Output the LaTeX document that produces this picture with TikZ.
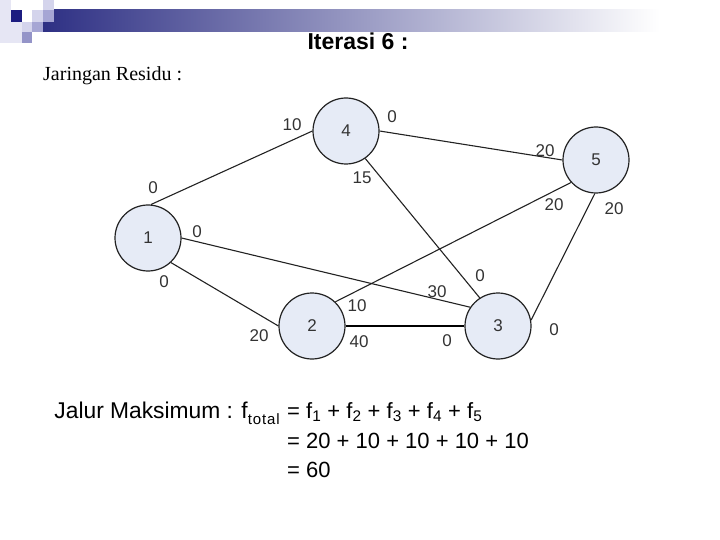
\documentclass[tikz,border=0pt]{standalone}
\usepackage{fontspec}
\setmainfont{Liberation Sans}
\newfontfamily\serifjr{Liberation Serif}
\definecolor{nodefill}{HTML}{E6EBF6}
\definecolor{barnavy}{HTML}{2E3084}
\definecolor{barmid}{HTML}{A4A4BE}
\definecolor{sqnavy}{HTML}{1C1C80}
\definecolor{sqlight}{HTML}{D4D4EC}
\definecolor{sqpale}{HTML}{E6E6F4}
\definecolor{sqmid}{HTML}{A6A6D4}
\definecolor{sqdark}{HTML}{9494C8}
\definecolor{edgecol}{HTML}{222222}
\definecolor{lblcol}{HTML}{333333}
\newcommand{\mysub}[1]{\raisebox{-6.5pt}{\fontsize{15}{15}\selectfont #1}}
\begin{document}
\begin{tikzpicture}[x=1pt,y=-1pt,
  vertex/.style={circle, draw=edgecol, line width=1.2pt, fill=nodefill,
    minimum size=66pt, inner sep=0pt, font=\fontsize{17}{20}\selectfont, text=lblcol},
  lbl/.style={font=\fontsize{17}{20}\selectfont, text=lblcol, inner sep=0pt},
  edgeline/.style={draw=edgecol, line width=1.1pt},
  eqtext/.style={font=\fontsize{22}{26}\selectfont, inner sep=0pt, text=black}]
\useasboundingbox (0,0) rectangle (720,540);
% top-left decoration
\shade[left color=barnavy, middle color=barmid, right color=white] (43,10) rectangle (660,32);
\fill[white] (660,10) rectangle (720,32);
\fill[sqpale] (0,0) rectangle (11,43);
\fill[sqpale] (11,22) rectangle (22,43);
\fill[sqnavy] (11,10) rectangle (22,22);
\fill[sqlight] (22,22) rectangle (32,32);
\fill[sqlight] (32,10) rectangle (43,22);
\fill[sqlight] (43,0) rectangle (54,10);
\fill[sqmid] (43,10) rectangle (54,22);
\fill[sqmid] (32,22) rectangle (43,32);
\fill[sqdark] (22,32) rectangle (32,43);
% titles
\node[font=\bfseries\fontsize{23}{27}\selectfont, inner sep=0pt, anchor=base] (title) at (358,50) {Iterasi 6 :};
\node[font=\serifjr\fontsize{20}{23}\selectfont, inner sep=0pt, anchor=base west] (jr) at (43,81) {Jaringan Residu :};
% nodes
\node[vertex] (n1) at (148,238) {1};
\node[vertex] (n2) at (312,326) {2};
\node[vertex] (n3) at (498,326) {3};
\node[vertex] (n4) at (346,131) {4};
\node[vertex] (n5) at (596,160) {5};
% edges
\draw[edgeline] (n1.85) -- (n4.180);
\draw[edgeline] (n4.0) -- (n5.180);
\draw[edgeline] (n4.-55) -- (n3.123);
\draw[edgeline] (n1.0) -- (n3.146);
\draw[edgeline] (n1.-47) -- (n2.180);
\draw[edgeline] (n2.46) -- (n5.-138);
\draw[edgeline, line width=1.6pt, draw=black] (n2.0) -- (n3.180);
\draw[edgeline] (n3.10) -- (n5.-92);
% labels
\node[lbl] (l14a) at (153,188) {0};
\node[lbl] (l14b) at (292,125) {10};
\node[lbl] (l45a) at (392,117) {0};
\node[lbl] (l45b) at (545,151) {20};
\node[lbl] (l43a) at (362,178) {15};
\node[lbl] (l43b) at (480,276) {0};
\node[lbl] (l13a) at (197,232) {0};
\node[lbl] (l13b) at (437,292) {30};
\node[lbl] (l12a) at (164,282) {0};
\node[lbl] (l12b) at (259,336) {20};
\node[lbl] (l25a) at (357,306) {10};
\node[lbl] (l25b) at (554,205) {20};
\node[lbl] (l23a) at (359,342) {40};
\node[lbl] (l23b) at (447,341) {0};
\node[lbl] (l35a) at (554,330) {0};
\node[lbl] (l35b) at (614,209) {20};
% bottom equations
\node[eqtext, font=\fontsize{22.8}{26}\selectfont, anchor=base east] (jm) at (280,418) {Jalur Maksimum : f\mysub{\addfontfeature{LetterSpace=6}total}};
\node[eqtext, anchor=base west] (eq1) at (287,418) {= f\textsubscript{1} + f\textsubscript{2} + f\textsubscript{3} + f\textsubscript{4} + f\textsubscript{5}};
\node[eqtext, anchor=base west] (eq2) at (287,448) {= 20 + 10 + 10 + 10 + 10};
\node[eqtext, anchor=base west] (eq3) at (287,477) {= 60};
\end{tikzpicture}
\end{document}
